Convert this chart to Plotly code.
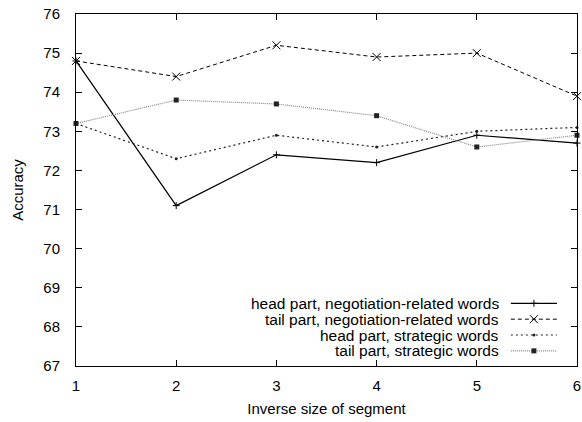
import plotly.graph_objects as go

x_vals = [1, 2, 3, 4, 5, 6]
head_negotiation = [74.8, 71.1, 72.4, 72.2, 72.9, 72.7]
tail_negotiation = [74.8, 74.4, 75.2, 74.9, 75.0, 73.9]
head_strategic = [73.2, 72.3, 72.9, 72.6, 73.0, 73.1]
tail_strategic = [73.2, 73.8, 73.7, 73.4, 72.6, 72.9]
names = ["head part, negotiation-related words",
         "tail part, negotiation-related words",
         "head part, strategic words",
         "tail part, strategic words"]
x_ticks = [1, 2, 3, 4, 5, 6]
y_ticks = [67, 68, 69, 70, 71, 72, 73, 74, 75, 76]

FONT = "Liberation Sans, Arial, Helvetica, sans-serif"
styles = [
    dict(line=dict(color="#000000", width=1.2, dash="solid"),
         marker=dict(symbol="cross-thin", size=5, color="#000000", line=dict(width=1, color="#000000"))),
    dict(line=dict(color="#000000", width=1, dash="4px,3px"),
         marker=dict(symbol="x-thin", size=8, color="#000000", line=dict(width=1, color="#000000"))),
    dict(line=dict(color="#222222", width=1.2, dash="2px,3px"),
         marker=dict(symbol="circle", size=3, color="#222222")),
    dict(line=dict(color="#888888", width=1.2, dash="1px,1px"),
         marker=dict(symbol="square", size=5, color="#222222")),
]
series = [head_negotiation, tail_negotiation, head_strategic, tail_strategic]

fig = go.Figure()
for name, ys, st in zip(names, series, styles):
    fig.add_trace(go.Scatter(x=x_vals, y=ys, mode="lines+markers", name=name,
                             line=st["line"], marker=st["marker"], showlegend=False,
                             cliponaxis=False))

# custom gnuplot-style legend (text right, sample on right) on an overlay paper axis
leg_y = [0.178, 0.133, 0.088, 0.043]
leg_text_x = 0.846
leg_line_x = [0.868, 0.96]
for name, st, ly in zip(names, styles, leg_y):
    fig.add_trace(go.Scatter(x=leg_line_x, y=[ly, ly], mode="lines", line=st["line"],
                             xaxis="x2", yaxis="y2", showlegend=False, hoverinfo="skip"))
    fig.add_trace(go.Scatter(x=[sum(leg_line_x) / 2], y=[ly], mode="markers", marker=st["marker"],
                             xaxis="x2", yaxis="y2", showlegend=False, hoverinfo="skip"))
    fig.add_annotation(x=leg_text_x, y=ly, xref="paper", yref="paper", text=name,
                       showarrow=False, xanchor="right", yanchor="middle", borderpad=0,
                       font=dict(family=FONT, size=15.5, color="#000000"))

axis_common = dict(showgrid=False, zeroline=False, showline=True, linecolor="#000000",
                   linewidth=1, mirror="ticks", ticks="inside", ticklen=6, tickcolor="#000000",
                   automargin=False,
                   tickfont=dict(family=FONT, size=15, color="#000000"))
fig.update_layout(
    width=582, height=422,
    margin=dict(l=76, r=5, t=14, b=56),
    paper_bgcolor="white", plot_bgcolor="white",
    xaxis=dict(range=[1, 6], tickvals=x_ticks, ticklabelstandoff=6, **axis_common,
               title=dict(text="Inverse size of segment", font=dict(family=FONT, size=15, color="#000000"), standoff=10)),
    yaxis=dict(range=[67, 76], tickvals=y_ticks, ticklabelstandoff=12, **axis_common,
               title=dict(text="Accuracy", font=dict(family=FONT, size=15, color="#000000"), standoff=16)),
    xaxis2=dict(range=[0, 1], overlaying="x", visible=False),
    yaxis2=dict(range=[0, 1], overlaying="y", visible=False),
)

fig.write_html("out.html", post_script="document.body.style.margin='0';",
               config={"displayModeBar": False})
